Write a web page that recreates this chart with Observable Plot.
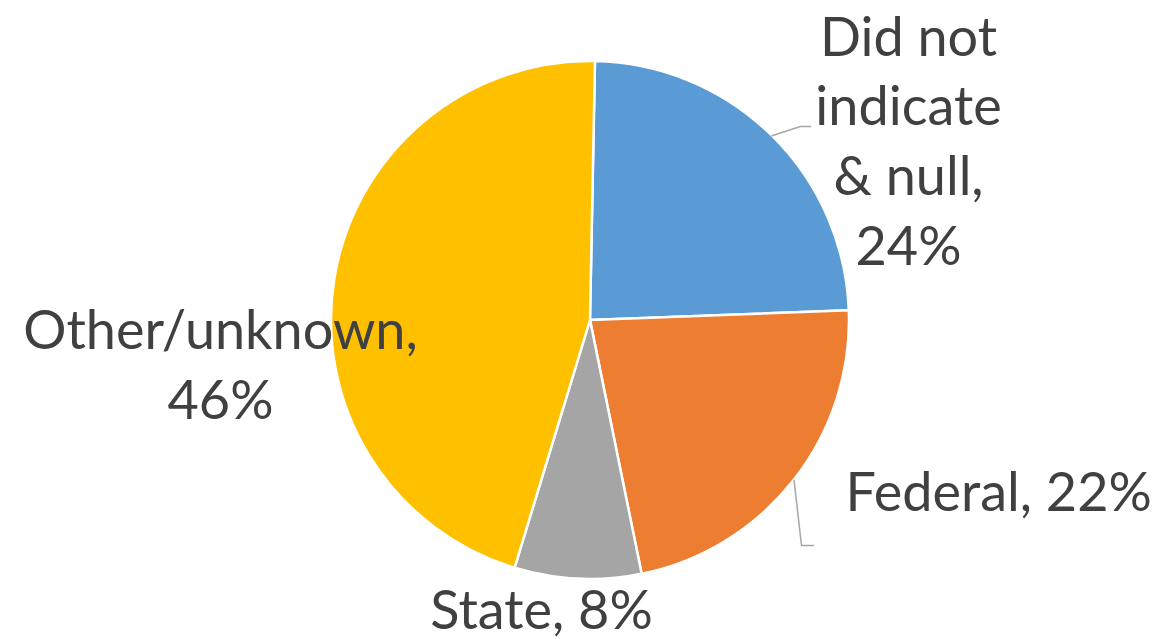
<!DOCTYPE html>
<html>
<head>
<meta charset="utf-8">
<script src="https://cdn.jsdelivr.net/npm/d3@7"></script>
<script src="https://cdn.jsdelivr.net/npm/@observablehq/plot@0.6"></script>
<style>
  html, body { margin: 0; padding: 0; background: #fff; }
  #chart { width: 1174px; height: 639px; }
</style>
</head>
<body>
<div id="chart"></div>
<script>
// ---- data ----
const categories = ["Did not indicate & null", "Federal", "State", "Other/unknown"];
const shares = [24.1, 22.4, 7.9, 45.6];
const labelTexts = ["Did not\nindicate\n& null,\n24%", "Federal, 22%", "State, 8%", "Other/unknown,\n46%"];
const colors = ["#5B9BD5", "#ED7D31", "#A5A5A5", "#FFC000"];

// ---- layout ----
const W = 1174, H = 639;
const cx = 590, cy = 320, R = 259;
const startDeg = 1.1;
const labelLayout = [
  {x: 908, y: 264, anchor: "middle"},
  {x: 845, y: 510, anchor: "start"},
  {x: 541, y: 628, anchor: "middle"},
  {x: 220, y: 418, anchor: "middle"}
];
const leaderLayout = {
  0: [[800, 126], [810, 126]],
  1: [[801, 545], [813, 545]]
};

const data = categories.map((c, i) => ({category: c, value: shares[i], label: labelTexts[i], ...labelLayout[i]}));
const start = startDeg * Math.PI / 180;
const arcs = d3.pie().sort(null).value(d => d.value).startAngle(start).endAngle(start + 2 * Math.PI)(data);

// leader lines: start at slice edge at mid-angle
const leaders = [];
Object.entries(leaderLayout).forEach(([k, pts]) => {
  const a = arcs[+k];
  const mid = (a.startAngle + a.endAngle) / 2;
  leaders.push({id: k, x: cx + R * Math.sin(mid), y: cy - R * Math.cos(mid)});
  pts.forEach(([x, y]) => leaders.push({id: k, x, y}));
});

const textStyle = {
  x: "x", y: "y", text: "label",
  lineAnchor: "bottom",
  lineHeight: 1.29,
  fontSize: 54,
  fontFamily: "Lato",
  fill: "#404040"
};

const chart = Plot.plot({
  width: W, height: H,
  margin: 0,
  x: {domain: [0, W], range: [0, W], axis: null},
  y: {domain: [0, H], range: [0, H], axis: null},
  color: {domain: categories, range: colors},
  style: {background: "#fff"},
  marks: [
    Plot.dot(arcs, {
      x: () => cx, y: () => cy, fill: d => d.data.category,
      render: (index, scales, values, dims, context) => {
        const g = d3.create("svg:g");
        const rPx = scales.x(R) - scales.x(0);
        const arcGen = d3.arc().innerRadius(0).outerRadius(rPx);
        for (const i of index) {
          g.append("path")
            .attr("transform", `translate(${values.x[i]},${values.y[i]})`)
            .attr("d", arcGen(arcs[i]))
            .attr("fill", values.fill[i])
            .attr("stroke", "#fff")
            .attr("stroke-width", 2.5)
            .attr("stroke-linejoin", "round");
        }
        return g.node();
      }
    }),
    Plot.line(leaders, {x: "x", y: "y", z: "id", stroke: "#A6A6A6", strokeWidth: 1.5}),
    Plot.text(data.filter(d => d.anchor === "middle"), {...textStyle, textAnchor: "middle"}),
    Plot.text(data.filter(d => d.anchor === "start"), {...textStyle, textAnchor: "start"})
  ]
});
document.getElementById("chart").appendChild(chart);
</script>
</body>
</html>
